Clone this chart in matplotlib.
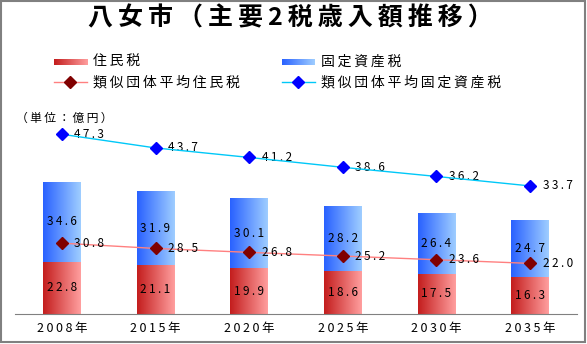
import numpy as np
import matplotlib
matplotlib.use("Agg")
import matplotlib.pyplot as plt
from matplotlib.colors import LinearSegmentedColormap
from matplotlib.patches import Rectangle

plt.rcParams['font.family'] = ['Noto Sans CJK JP', 'DejaVu Sans']

YEARS = ["2008年", "2015年", "2020年", "2025年", "2030年", "2035年"]
JUMIN = [22.8, 21.1, 19.9, 18.6, 17.5, 16.3]          # 住民税
KOTEI = [34.6, 31.9, 30.1, 28.2, 26.4, 24.7]          # 固定資産税
RUIJI_JUMIN = [30.8, 28.5, 26.8, 25.2, 23.6, 22.0]    # 類似団体平均住民税
RUIJI_KOTEI = [47.3, 43.7, 41.2, 38.6, 36.2, 33.7]    # 類似団体平均固定資産税

W, H = 587, 344
RED_CMAP = LinearSegmentedColormap.from_list("red", ["#C41E1E", "#FF9E9E"])
BLUE_CMAP = LinearSegmentedColormap.from_list("blue", ["#2A62FF", "#9ECDFF"])
GRAD = np.linspace(0, 1, 64).reshape(1, -1)
RED_LINE, RED_MARK = "#FF8080", "#800000"
BLUE_LINE, BLUE_MARK = "#00C8F8", "#0000FF"


def sp(s, n=1):
    # letter spacing via thin spaces
    return ("\u2009" * n).join(s)


def grad_rect(ax, left, right, bottom, top, cmap, z=2):
    ax.imshow(GRAD, cmap=cmap, extent=(left, right, bottom, top),
              aspect="auto", zorder=z, interpolation="bilinear")


fig = plt.figure(figsize=(W / 100, H / 100), dpi=100)
ax = fig.add_axes([15 / W, 30 / H, 562 / W, 189 / H])
ax.set_facecolor("none")
ax2 = ax.twinx()

x = np.arange(len(YEARS))
bw = 0.405
for i in x:
    grad_rect(ax, i - bw / 2, i + bw / 2, 0, JUMIN[i], RED_CMAP)
    grad_rect(ax, i - bw / 2, i + bw / 2, JUMIN[i], JUMIN[i] + KOTEI[i], BLUE_CMAP)
    ax.text(i, JUMIN[i] / 2, sp(f"{JUMIN[i]:.1f}"), ha="center", va="center", fontsize=8.5, zorder=5)
    ax.text(i, JUMIN[i] + KOTEI[i] / 2, sp(f"{KOTEI[i]:.1f}"), ha="center", va="center", fontsize=8.5, zorder=5)

ax.plot(x, RUIJI_JUMIN, color=RED_LINE, lw=1, marker="D", ms=6.5,
        mfc=RED_MARK, mec=RED_MARK, zorder=4)
for i, v in zip(x, RUIJI_JUMIN):
    ax.annotate(sp(f"{v:.1f}"), (i, v), xytext=(9, 0), textcoords="offset points",
                ha="left", va="center", fontsize=8.5, zorder=5)

ax2.plot(x, RUIJI_KOTEI, color=BLUE_LINE, lw=1, marker="D", ms=6.5,
         mfc=BLUE_MARK, mec=BLUE_MARK, zorder=4)
for i, v in zip(x, RUIJI_KOTEI):
    ax2.annotate(sp(f"{v:.1f}"), (i, v), xytext=(9, 0), textcoords="offset points",
                 ha="left", va="center", fontsize=8.5)

ax.set_xlim(-0.5, len(YEARS) - 0.5)
ax.set_ylim(0, 189 / 2.3)
ax2.set_ylim(0, 189 / 3.8)
ax.set_xticks(x)
ax.set_xticklabels([sp(y) for y in YEARS], fontsize=9)
ax.tick_params(axis="x", length=0, pad=6)
ax.set_yticks([])
ax2.set_yticks([])
for a in (ax, ax2):
    for s in ("top", "left", "right"):
        a.spines[s].set_visible(False)
ax.spines["bottom"].set_color("#808080")
ax2.spines["bottom"].set_visible(False)

# overlay in pixel coords for title, legend, unit, frame
ov = fig.add_axes([0, 0, 1, 1])
ov.set_xlim(0, W)
ov.set_ylim(H, 0)
ov.axis("off")
ov.patch.set_visible(False)

ov.text(290, 18, sp("八女市（主要2税歳入額推移）"), ha="center", va="center",
        fontsize=18, fontweight="bold")

grad_rect(ov, 53.5, 87, 65, 59, RED_CMAP)
ov.text(93, 62, sp("住民税"), va="center", fontsize=10)
grad_rect(ov, 281.5, 314.5, 65, 59, BLUE_CMAP)
ov.text(321, 62, sp("固定資産税"), va="center", fontsize=10)

ov.plot([53.5, 87], [82, 82], color=RED_LINE, lw=1)
ov.plot([70], [82], marker="D", ms=6.5, color=RED_MARK)
ov.text(93, 82, sp("類似団体平均住民税"), va="center", fontsize=10)
ov.plot([281.5, 314.5], [82, 82], color=BLUE_LINE, lw=1)
ov.plot([298], [82], marker="D", ms=6.5, color=BLUE_MARK)
ov.text(321, 82, sp("類似団体平均固定資産税"), va="center", fontsize=10)

ov.text(16, 118, sp("（単位：億円）"), va="center", fontsize=8.5)

ov.add_patch(Rectangle((0.8, 0.8), W - 2.6, H - 2.6, fill=False, ec="#808080", lw=1.5))

fig.savefig("out.png", dpi=100)
